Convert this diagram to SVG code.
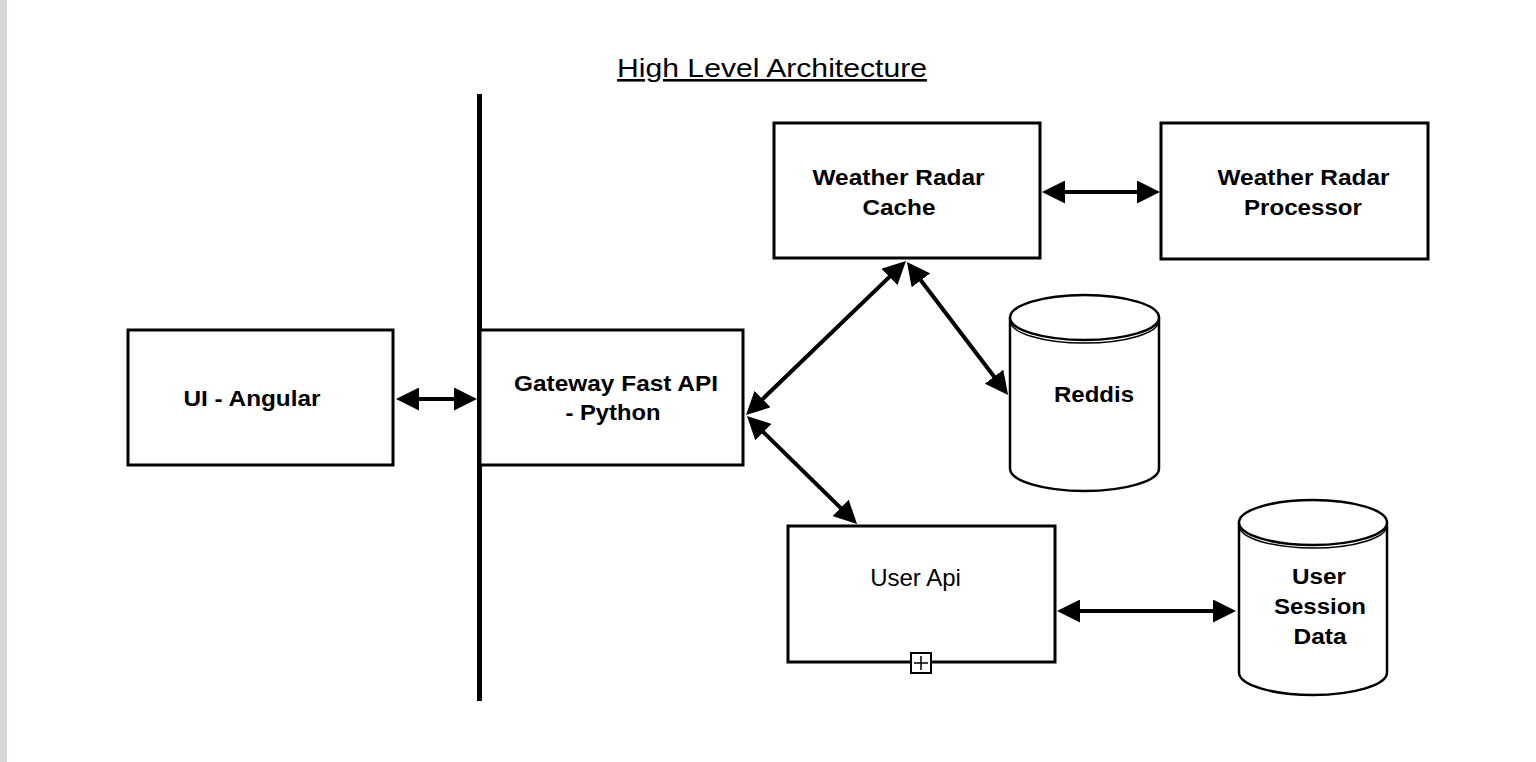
<svg xmlns="http://www.w3.org/2000/svg" width="1536" height="762" viewBox="0 0 1536 762">
<defs>
<style>
.box{fill:#fff;stroke:#000;stroke-width:3}
.cyl{fill:#fff;stroke:#000;stroke-width:2.5}
.lbl{font-family:"Liberation Sans",Arial,Helvetica,sans-serif;font-weight:bold;font-size:22px;fill:#000;text-anchor:middle}
.lbln{font-family:"Liberation Sans",Arial,Helvetica,sans-serif;font-size:24px;fill:#000;text-anchor:middle}
.conn{fill:none;stroke:#000;stroke-width:4;marker-start:url(#ah);marker-end:url(#ah)}
</style>
<marker id="ah" viewBox="0 0 23 23" refX="13" refY="11.5" markerWidth="23" markerHeight="23" markerUnits="userSpaceOnUse" orient="auto-start-reverse">
<path d="M0,0 L23,11.5 L0,23 z" fill="#000"/>
</marker>
</defs>
<rect x="0" y="0" width="1536" height="762" fill="#fff"/>
<rect x="0" y="0" width="7" height="762" fill="#dad7da"/>
<text x="617" y="77" textLength="310" lengthAdjust="spacingAndGlyphs" style="font-family:'Liberation Sans',Arial,Helvetica,sans-serif;font-size:26px;text-decoration:underline" fill="#000">High Level Architecture</text>
<line x1="479.5" y1="94" x2="479.5" y2="701" stroke="#000" stroke-width="5"/>
<g id="ui-angular">
<rect class="box" x="128" y="330" width="265" height="135"/>
<text class="lbl" x="252" y="406" textLength="137" lengthAdjust="spacingAndGlyphs">UI - Angular</text>
</g>
<g id="gateway">
<rect class="box" x="480" y="330" width="263" height="135"/>
<text class="lbl" x="616" y="391" textLength="204" lengthAdjust="spacingAndGlyphs">Gateway Fast API</text>
<text class="lbl" x="613" y="420" textLength="95" lengthAdjust="spacingAndGlyphs">- Python</text>
</g>
<g id="weather-radar-cache">
<rect class="box" x="774" y="123" width="266" height="135"/>
<text class="lbl" x="898.5" y="185" textLength="172" lengthAdjust="spacingAndGlyphs">Weather Radar</text>
<text class="lbl" x="899" y="215" textLength="73" lengthAdjust="spacingAndGlyphs">Cache</text>
</g>
<g id="weather-radar-processor">
<rect class="box" x="1161" y="123" width="267" height="136"/>
<text class="lbl" x="1303.5" y="185" textLength="172" lengthAdjust="spacingAndGlyphs">Weather Radar</text>
<text class="lbl" x="1303" y="215" textLength="118" lengthAdjust="spacingAndGlyphs">Processor</text>
</g>
<g id="reddis">
<path class="cyl" d="M1010,317.5 V468.5 A74.5,22.5 0 0 0 1159,468.5 V317.5"/>
<ellipse class="cyl" cx="1084.5" cy="317.5" rx="74.5" ry="22.5"/>
<path d="M1010,320.5 A74.5,22.5 0 0 0 1159,320.5" fill="none" stroke="#000" stroke-width="1.5"/>
<text class="lbl" x="1094" y="402" textLength="80" lengthAdjust="spacingAndGlyphs">Reddis</text>
</g>
<g id="user-api">
<rect class="box" x="788" y="526" width="267" height="136"/>
<text class="lbln" x="915.5" y="586">User Api</text>
<rect x="911" y="653" width="20" height="20" fill="#fff" stroke="#000" stroke-width="2"/>
<path d="M914,663 H928 M921,656 V670" stroke="#000" stroke-width="1.5"/>
</g>
<g id="user-session-data">
<path class="cyl" d="M1239,522.5 V672.5 A74,22.5 0 0 0 1387,672.5 V522.5"/>
<ellipse class="cyl" cx="1313" cy="522.5" rx="74" ry="22.5"/>
<path d="M1239,525.5 A74,22.5 0 0 0 1387,525.5" fill="none" stroke="#000" stroke-width="1.5"/>
<text class="lbl" x="1319" y="584" textLength="54" lengthAdjust="spacingAndGlyphs">User</text>
<text class="lbl" x="1320" y="614" textLength="92" lengthAdjust="spacingAndGlyphs">Session</text>
<text class="lbl" x="1320" y="644" textLength="53" lengthAdjust="spacingAndGlyphs">Data</text>
</g>
<g id="connectors">
<path class="conn" d="M406,399 H467"/>
<path class="conn" d="M1052,192 H1150"/>
<path class="conn" d="M1067,611 H1226"/>
<path class="conn" d="M753.2,408.1 L898.8,267.9"/>
<path class="conn" d="M913,270 L1002,387"/>
<path class="conn" d="M754.1,423 L849.9,517"/>
</g>
</svg>
